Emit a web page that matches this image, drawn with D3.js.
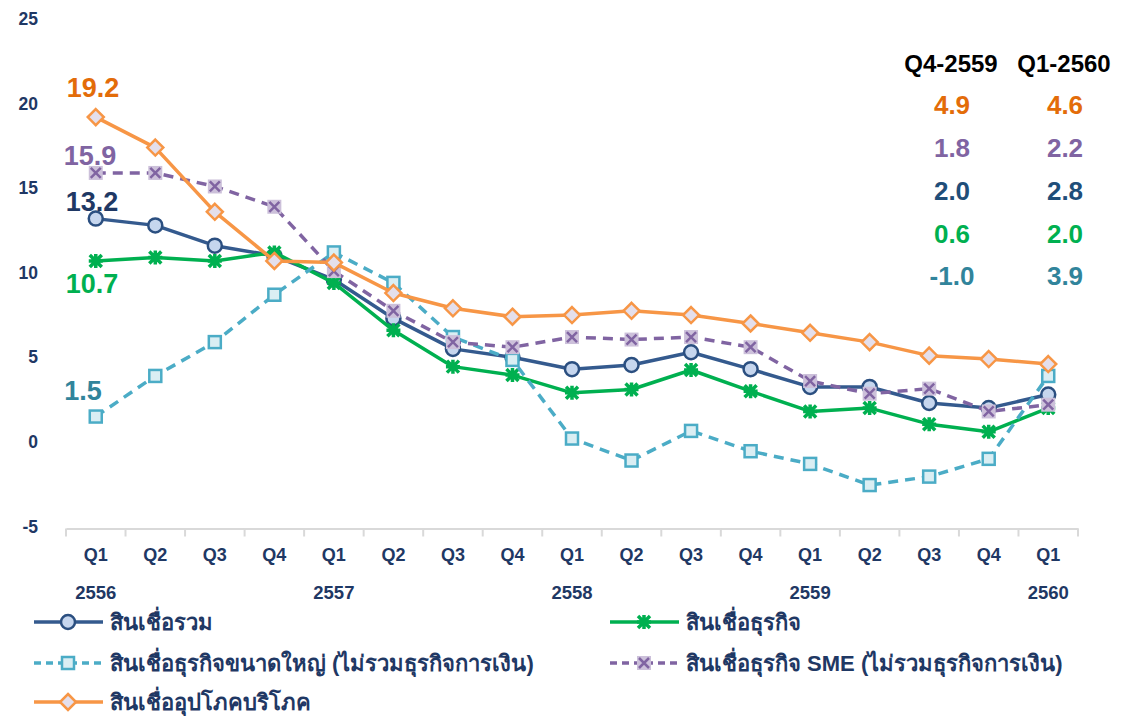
<!DOCTYPE html>
<html><head><meta charset="utf-8">
<script src="https://cdn.jsdelivr.net/npm/d3@7/dist/d3.min.js"></script>
<style>body{margin:0;background:#fff}svg{display:block;font-family:Arial,"Liberation Sans",sans-serif}</style>
</head><body><svg id="c" width="1142" height="716"></svg>
<script>
const quarters = ["Q1","Q2","Q3","Q4","Q1","Q2","Q3","Q4","Q1","Q2","Q3","Q4","Q1","Q2","Q3","Q4","Q1"];
const years = ["2556","","","","2557","","","","2558","","","","2559","","","","2560"];
const yTicks = [-5,0,5,10,15,20,25];
const totalLoans    = [13.2,12.8,11.6,11.0,9.6,7.3,5.5,5.0,4.3,4.55,5.3,4.3,3.25,3.25,2.3,2.0,2.8];
const businessLoans = [10.7,10.9,10.7,11.2,9.4,6.6,4.45,3.95,2.9,3.1,4.25,3.0,1.8,2.0,1.05,0.6,2.0];
const largeBiz      = [1.5,3.9,5.9,8.7,11.2,9.4,6.2,4.85,0.2,-1.1,0.65,-0.55,-1.3,-2.55,-2.05,-1.0,3.9];
const smeLoans      = [15.9,15.9,15.1,13.9,10.1,7.75,5.9,5.6,6.2,6.05,6.2,5.6,3.6,2.85,3.15,1.8,2.2];
const consumerLoans = [19.2,17.4,13.6,10.7,10.6,8.8,7.9,7.4,7.5,7.75,7.5,7.0,6.45,5.9,5.1,4.9,4.6];
const seriesNames = ["สินเชื่อรวม","สินเชื่อธุรกิจ","สินเชื่อธุรกิจขนาดใหญ่ (ไม่รวมธุรกิจการเงิน)","สินเชื่อธุรกิจ SME (ไม่รวมธุรกิจการเงิน)","สินเชื่ออุปโภคบริโภค"];
const tableHeaders = ["Q4-2559","Q1-2560"];
const tableQ4 = [4.9,1.8,2.0,0.6,-1.0];
const tableQ1 = [4.6,2.2,2.8,2.0,3.9];
const startLabels = [19.2,15.9,13.2,10.7,1.5];

const svg = d3.select("#c");
const idx = d3.range(quarters.length);
const x = d3.scaleBand().domain(idx).range([66,1078]).padding(0);
const cx = i => x(i) + x.bandwidth()/2;
const y = d3.scaleLinear().domain([-5,25]).range([526.5,19]);

const navy = "#1F3864";
// y labels
svg.append("g").selectAll("text").data(yTicks).join("text")
  .attr("x",38).attr("y",d=>y(d)).attr("dy","0.35em")
  .attr("text-anchor","end").attr("font-weight","bold").attr("font-size",17.5).attr("fill",navy)
  .text(d=>d);

// x axis
const xAxis = d3.axisBottom(x).tickSize(0).tickFormat("");
const gx = svg.append("g").attr("transform",`translate(0,${y(-5)+2})`).call(xAxis);
gx.select(".domain").attr("stroke","#D9D9D9").attr("stroke-width",2);
svg.append("g").selectAll("line").data(d3.range(quarters.length+1)).join("line")
  .attr("x1",i=>i<quarters.length? x(i): x(i-1)+x.bandwidth()).attr("x2",i=>i<quarters.length? x(i): x(i-1)+x.bandwidth())
  .attr("y1",y(-5)+2).attr("y2",y(-5)+10).attr("stroke","#D9D9D9").attr("stroke-width",2);
svg.append("g").selectAll("text").data(idx).join("text")
  .attr("x",i=>cx(i)).attr("y",555).attr("dy","0.35em").attr("text-anchor","middle").attr("font-weight","bold")
  .attr("font-size",18).attr("fill",navy).text(i=>quarters[i]);
svg.append("g").selectAll("text").data(idx.filter(i=>years[i])).join("text")
  .attr("x",i=>cx(i)).attr("y",593).attr("dy","0.35em").attr("text-anchor","middle").attr("font-weight","bold")
  .attr("font-size",18.5).attr("fill",navy).text(i=>years[i]);

const styles = [
  {data:totalLoans, stroke:"#345A8E", dash:null, marker:"circle", fill:"#C6D6EE", mstroke:"#2B4F80"},
  {data:businessLoans, stroke:"#00B050", dash:null, marker:"star", fill:"#00B050", mstroke:"#00B050"},
  {data:largeBiz, stroke:"#4BACC6", dash:"10,7", marker:"square", fill:"#DAEEF3", mstroke:"#4BACC6"},
  {data:smeLoans, stroke:"#8064A2", dash:"10,7", marker:"x", fill:"#CCC0DA", mstroke:"#8064A2"},
  {data:consumerLoans, stroke:"#F79646", dash:null, marker:"diamond", fill:"#E4DFEC", mstroke:"#F79646"}
];

function drawMarker(g, s, px, py){
  if(s.marker==="circle"){
    g.append("circle").attr("cx",px).attr("cy",py).attr("r",7).attr("fill",s.fill).attr("stroke",s.mstroke).attr("stroke-width",2.5);
  } else if(s.marker==="square"){
    g.append("rect").attr("x",px-6).attr("y",py-6).attr("width",12).attr("height",12).attr("fill",s.fill).attr("stroke",s.mstroke).attr("stroke-width",2.5);
  } else if(s.marker==="diamond"){
    g.append("path").attr("d",`M${px},${py-8}L${px+8},${py}L${px},${py+8}L${px-8},${py}Z`).attr("fill",s.fill).attr("stroke",s.mstroke).attr("stroke-width",2.5);
  } else if(s.marker==="x"){
    g.append("rect").attr("x",px-7).attr("y",py-7).attr("width",14).attr("height",14).attr("fill",s.fill);
    g.append("path").attr("d",`M${px-5},${py-5}L${px+5},${py+5}M${px+5},${py-5}L${px-5},${py+5}`).attr("stroke",s.mstroke).attr("stroke-width",2.5);
  } else if(s.marker==="star"){
    g.append("path").attr("d",`M${px-6},${py-6}L${px+6},${py+6}M${px+6},${py-6}L${px-6},${py+6}M${px},${py-7}L${px},${py+7}M${px-7},${py}L${px+7},${py}`).attr("stroke",s.mstroke).attr("stroke-width",3.5);
  }
}

const line = d3.line().x((d,i)=>cx(i)).y(d=>y(d));
styles.forEach(s=>{
  const g = svg.append("g");
  g.append("path").datum(s.data).attr("d",line).attr("fill","none").attr("stroke",s.stroke)
    .attr("stroke-width",3.5).attr("stroke-dasharray",s.dash).attr("stroke-linejoin","round");
  s.data.forEach((v,i)=>drawMarker(g,s,cx(i),y(v)));
});

// start labels
const startColors = ["#E36C09","#8064A2","#1F3864","#00B050","#31849B"];
const startPos = [[93,88],[90,156],[92,202],[92,284],[83,391]];
svg.append("g").selectAll("text").data(startLabels).join("text")
  .attr("x",(d,i)=>startPos[i][0]).attr("y",(d,i)=>startPos[i][1]).attr("dy","0.35em")
  .attr("text-anchor","middle").attr("font-weight","bold").attr("font-size",27)
  .attr("fill",(d,i)=>startColors[i]).text(d=>d.toFixed(1));

// table
const tcols = [951,1064];
svg.append("g").selectAll("text").data(tableHeaders).join("text")
  .attr("x",(d,i)=>tcols[i]).attr("y",64).attr("dy","0.35em").attr("text-anchor","middle")
  .attr("font-weight","bold").attr("font-size",24).attr("fill","#000").text(d=>d);
const tableColors = ["#E36C09","#8064A2","#1F4E79","#00B050","#31849B"];
const rowsY = [105,148,191,234,276];
[tableQ4,tableQ1].forEach((col,ci)=>{
  svg.append("g").selectAll("text").data(col).join("text")
    .attr("x",tcols[ci]+1).attr("y",(d,i)=>rowsY[i]).attr("dy","0.35em").attr("text-anchor","middle")
    .attr("font-weight","bold").attr("font-size",26).attr("fill",(d,i)=>tableColors[i]).text(d=>d.toFixed(1));
});

// legend
const legPos = [[34,622],[610,622],[34,663],[610,663],[34,702]];
styles.forEach((s,i)=>{
  const [lx,ly] = legPos[i];
  const g = svg.append("g");
  g.append("line").attr("x1",lx).attr("x2",lx+69).attr("y1",ly).attr("y2",ly).attr("stroke",s.stroke)
    .attr("stroke-width",3.5).attr("stroke-dasharray",s.dash?"7,5":null);
  drawMarker(g,s,lx+34,ly);
  g.append("text").attr("x",lx+76).attr("y",ly).attr("dy","0.35em").attr("font-size",22)
    .attr("font-weight","bold").attr("fill",navy).text(seriesNames[i]);
});
</script></body></html>
